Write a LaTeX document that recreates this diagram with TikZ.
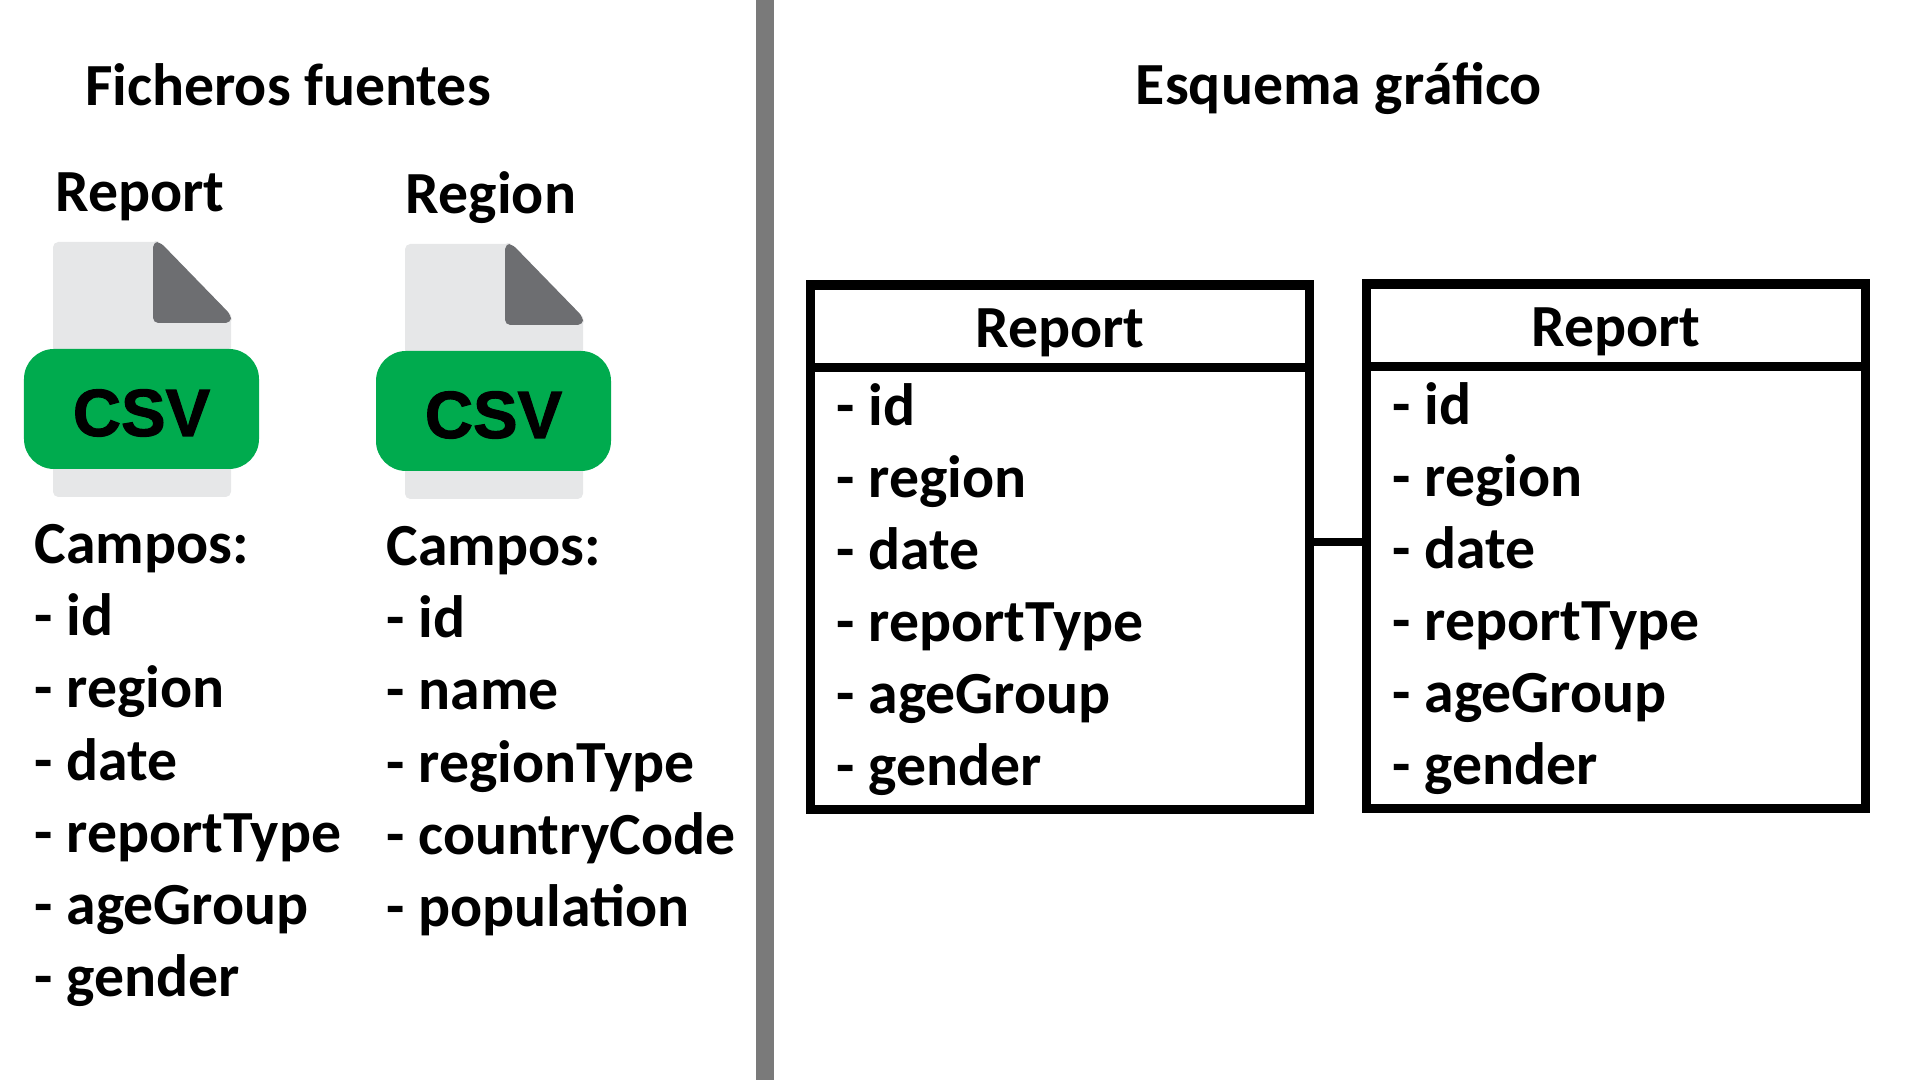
\documentclass[tikz,border=0pt]{standalone}
\usepackage{fontspec}
\usepackage{xcolor}
\setmainfont{Carlito}
\newfontfamily\csvfont[BoldFeatures={FakeBold=1.6}]{Liberation Sans}
\usetikzlibrary{calc, positioning}
\definecolor{divider}{HTML}{7A7A7A}
\definecolor{filepage}{HTML}{E6E7E8}
\definecolor{filefold}{HTML}{6D6E71}
\definecolor{csvgreen}{HTML}{00AB4E}
\newcommand{\bigbold}{\fontsize{17}{20}\selectfont\bfseries}
\newcommand{\fieldfont}{\fontsize{17}{20.5}\selectfont\bfseries}
\begin{document}
\begin{tikzpicture}[
  title/.style   = {font=\bigbold, anchor=base, inner sep=0pt},
  fields/.style  = {font=\fieldfont, anchor=north west, align=left, inner sep=0pt},
  tablebox/.style = {draw=black, line width=2.56pt, fill=white, minimum width=4.99cm, minimum height=5.24cm, inner sep=0pt},
  link/.style    = {draw=black, line width=2.3pt},
  page/.style    = {fill=filepage, rounded corners=1.5pt},
  fold/.style    = {fill=filefold, rounded corners=1.5pt},
  badge/.style   = {fill=csvgreen, rounded corners=0.3cm, minimum width=2.35cm, minimum height=1.2cm, inner sep=0pt},
  badgetxt/.style = {font=\fontsize{19}{20}\csvfont\bfseries, yshift=-0.04cm},
]
\useasboundingbox (0,0) rectangle (19.2,10.8);
%%--- Divider ---
\fill[divider] (7.56,0) rectangle (7.74,10.8);
%%--- Left column ---
\node[title] (srcTitle) at (2.88,9.74) {Ficheros fuentes};
\node[title] (repName)  at (1.40,8.68) {Report};
\node[title] (regName)  at (4.91,8.66) {Region};
%%--- Report file icon ---
\fill[page] (0.53,5.83) -- (0.53,8.38) -- (2.31,8.38) -- (2.31,5.83) -- cycle;
\fill[white] (1.55,8.41) -- (2.34,8.41) -- (2.34,7.62) -- cycle;
\fill[fold] (1.53,8.38) -- (1.60,8.38) -- (2.31,7.65) -- (2.31,7.57) -- (1.53,7.57) -- cycle;
\node[badge] (repBadge) at (1.415,6.71) {};
\node[badgetxt] at (repBadge) {CSV};
%%--- Region file icon ---
\fill[page] (4.05,5.81) -- (4.05,8.36) -- (5.83,8.36) -- (5.83,5.81) -- cycle;
\fill[white] (5.07,8.39) -- (5.86,8.39) -- (5.86,7.60) -- cycle;
\fill[fold] (5.05,8.36) -- (5.12,8.36) -- (5.83,7.63) -- (5.83,7.55) -- (5.05,7.55) -- cycle;
\node[badge] (regBadge) at (4.935,6.69) {};
\node[badgetxt] at (regBadge) {CSV};
%%--- Field lists ---
\node[fields] (repFields) at (0.34,5.56) {Campos:\\- id\\- region\\- date\\- reportType\\- ageGroup\\- gender};
\node[fields] (regFields) at (3.86,5.54) {Campos:\\- id\\- name\\- regionType\\- countryCode\\- population};
%%--- Right column ---
\node[title] (graphTitle) at (13.39,9.75) {Esquema gráfico};
\node[tablebox] (leftTable)  at (10.60,5.32) {};
\node[tablebox] (rightTable) at (16.16,5.33) {};
\draw[link] (leftTable.east) ++(0,0.06) coordinate (linkA) -- (linkA -| rightTable.west);
\draw[link] ($(leftTable.north west)+(0,-0.03)$) -- ($(leftTable.north east)+(0,-0.03)$);
\draw[link] ($(rightTable.north west)+(0,-0.03)$) -- ($(rightTable.north east)+(0,-0.03)$);
\draw[link] ($(leftTable.north west)+(0,-0.86)$) -- ($(leftTable.north east)+(0,-0.86)$);
\draw[link] ($(rightTable.north west)+(0,-0.86)$) -- ($(rightTable.north east)+(0,-0.86)$);
\node[title] (leftHead)  at (10.60,7.32) {Report};
\node[title] (rightHead) at (16.16,7.33) {Report};
\node[fields] (leftFields)  at (8.36,6.97) {- id\\- region\\- date\\- reportType\\- ageGroup\\- gender};
\node[fields] (rightFields) at (13.92,6.98) {- id\\- region\\- date\\- reportType\\- ageGroup\\- gender};
\end{tikzpicture}
\end{document}
